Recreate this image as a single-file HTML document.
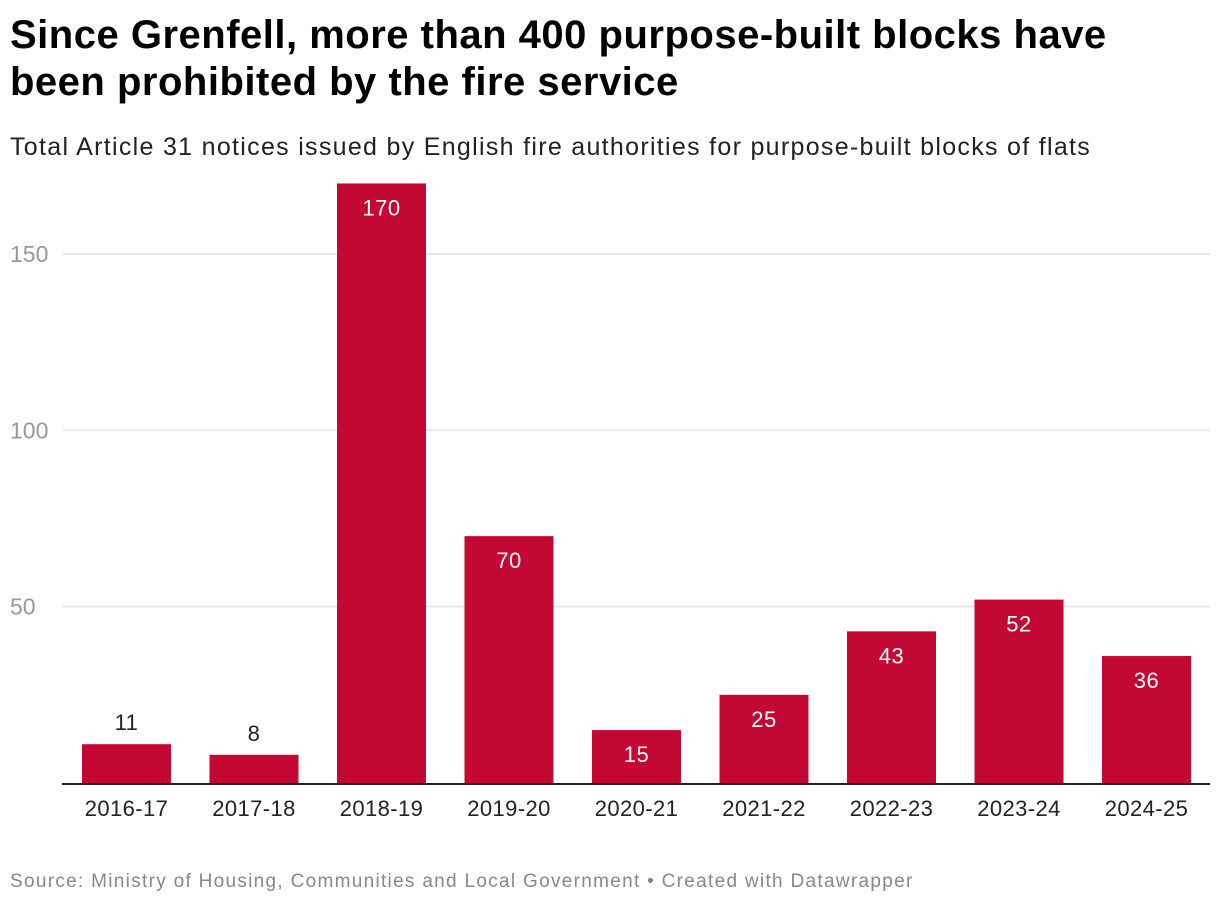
<!DOCTYPE html>
<html><head><meta charset="utf-8"><style>
body{margin:0;background:#fff;font-family:"Liberation Sans",sans-serif;}
#wrap{position:relative;width:1220px;height:904px;overflow:hidden;}
h1{position:absolute;left:10px;top:12px;margin:0;font-size:40px;line-height:47px;font-weight:bold;color:#000;width:1210px;letter-spacing:0.5px;white-space:nowrap}
.sub{position:absolute;left:10px;top:133px;font-size:25px;color:#222;letter-spacing:1.3px;white-space:nowrap}
.src{position:absolute;left:10px;top:871px;font-size:19px;color:#888;letter-spacing:1.3px;white-space:nowrap}
svg{position:absolute;left:0;top:0}
</style></head><body>
<div id="wrap">
<h1>Since Grenfell, more than 400 purpose-built blocks have<br>been prohibited by the fire service</h1>
<div class="sub">Total Article 31 notices issued by English fire authorities for purpose-built blocks of flats</div>
<svg id="plot" width="1220" height="904"></svg>
<div class="src">Source: Ministry of Housing, Communities and Local Government • Created with Datawrapper</div>
</div>
<script>
const categories=["2016-17","2017-18","2018-19","2019-20","2020-21","2021-22","2022-23","2023-24","2024-25"];
const values=[11,8,170,70,15,25,43,52,36];
const yTicks=[50,100,150];
const ns="http://www.w3.org/2000/svg";
const svg=document.getElementById('plot');
const y0=783, pxPer=(783-254)/150;
function y(v){return y0-v*pxPer;}
function x(i){return 82+i*127.5;}
const bw=89;
function mk(t,a){const e=document.createElementNS(ns,t);for(const k in a)e.setAttribute(k,a[k]);svg.appendChild(e);return e;}
yTicks.forEach(t=>{
 const l=mk('line',{x1:63,x2:1210,y1:y(t),y2:y(t),stroke:'#e3e3e3','stroke-width':1.5});
 
 
 const tx=mk('text',{x:10,y:y(t)+8,'font-size':23,fill:'#999','font-family':'Liberation Sans, sans-serif'});
 tx.textContent=t;
 
 
});
values.forEach((v,i)=>{
 const r=mk('rect',{x:x(i),y:y(v),width:bw,height:y0-y(v),fill:'#c20833'});
 
 
 const inside=(y0-y(v))>45;
 const t=mk('text',{x:x(i)+bw/2,y:inside?y(v)+32:y(v)-14,'text-anchor':'middle','font-size':22,fill:inside?'#fff':'#222','font-family':'Liberation Sans, sans-serif','letter-spacing':0.5});
 t.textContent=v;
 
 
 const c=mk('text',{x:x(i)+bw/2,y:816,'text-anchor':'middle','font-size':22,fill:'#222','font-family':'Liberation Sans, sans-serif','letter-spacing':0.4});
 c.textContent=categories[i];
 
 
});
const b=mk('line',{x1:62,x2:1210,y1:y0+1,y2:y0+1,stroke:'#222','stroke-width':2});


</script>
</body></html>
